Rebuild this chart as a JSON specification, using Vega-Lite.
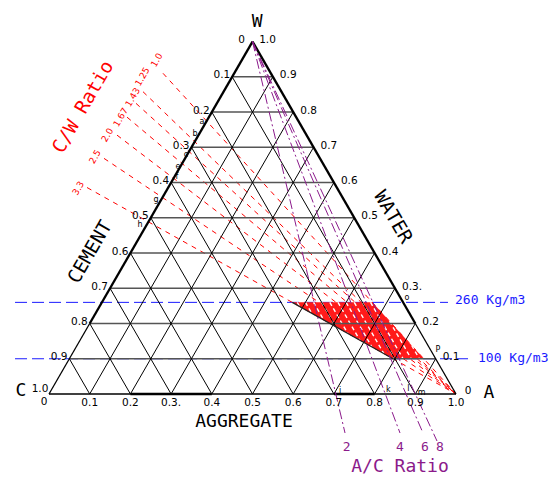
{
  "$schema": "https://vega.github.io/schema/vega-lite/v6.json",
  "width": 548,
  "height": 480,
  "padding": 0,
  "autosize": {"type": "none"},
  "background": "white",
  "config": {"view": {"stroke": null}},
  "datasets": {
    "blue": [
      {"x": -0.0835, "x2": 0.9803, "y": 0.22517, "y2": 0.22517},
      {"x": -0.0835, "x2": 1.0295, "y": 0.0866, "y2": 0.0866}
    ],
    "cw": [
      {"r": "1.0", "x": 0.2801, "y": 0.788, "x2": 1, "y2": 0},
      {"r": "1.25", "x": 0.23096, "y": 0.74276, "x2": 1, "y2": 0},
      {"r": "1.43", "x": 0.21376, "y": 0.7141, "x2": 1, "y2": 0},
      {"r": "1.67", "x": 0.19165, "y": 0.68026, "x2": 1, "y2": 0},
      {"r": "2.0", "x": 0.16708, "y": 0.63609, "x2": 1, "y2": 0},
      {"r": "2.5", "x": 0.13514, "y": 0.57893, "x2": 1, "y2": 0},
      {"r": "3.3", "x": 0.09337, "y": 0.50736, "x2": 1, "y2": 0}
    ],
    "zone": [
      {"y": 0.0866, "x": 0.84525, "x2": 0.92088},
      {"y": 0.22517, "x": 0.59763, "x2": 0.79429}
    ],
    "hatch": [
      {"x": 0.89117, "y": 0.11922, "x2": 0.91, "y2": 0.0866},
      {"x": 0.83675, "y": 0.17883, "x2": 0.89, "y2": 0.0866},
      {"x": 0.79, "y": 0.22517, "x2": 0.87, "y2": 0.0866},
      {"x": 0.77, "y": 0.22517, "x2": 0.85, "y2": 0.0866},
      {"x": 0.75, "y": 0.22517, "x2": 0.82273, "y2": 0.0992},
      {"x": 0.73, "y": 0.22517, "x2": 0.79318, "y2": 0.11573},
      {"x": 0.71, "y": 0.22517, "x2": 0.76364, "y2": 0.13226},
      {"x": 0.69, "y": 0.22517, "x2": 0.73409, "y2": 0.1488},
      {"x": 0.67, "y": 0.22517, "x2": 0.70455, "y2": 0.16533},
      {"x": 0.65, "y": 0.22517, "x2": 0.675, "y2": 0.18187},
      {"x": 0.63, "y": 0.22517, "x2": 0.64545, "y2": 0.1984},
      {"x": 0.61, "y": 0.22517, "x2": 0.61591, "y2": 0.21493}
    ],
    "hgrid": [
      {"x": 0.05, "x2": 0.95, "y": 0.0866, "y2": 0.0866},
      {"x": 0.1, "x2": 0.9, "y": 0.1732, "y2": 0.1732},
      {"x": 0.15, "x2": 0.85, "y": 0.2598, "y2": 0.2598},
      {"x": 0.2, "x2": 0.8, "y": 0.3464, "y2": 0.3464},
      {"x": 0.25, "x2": 0.75, "y": 0.433, "y2": 0.433},
      {"x": 0.3, "x2": 0.7, "y": 0.5196, "y2": 0.5196},
      {"x": 0.35, "x2": 0.65, "y": 0.6062, "y2": 0.6062},
      {"x": 0.4, "x2": 0.6, "y": 0.6928, "y2": 0.6928},
      {"x": 0.45, "x2": 0.55, "y": 0.7794, "y2": 0.7794}
    ],
    "dgrid": [
      {"x": 0.1, "y": 0, "x2": 0.55, "y2": 0.7794},
      {"x": 0.2, "y": 0, "x2": 0.6, "y2": 0.6928},
      {"x": 0.3, "y": 0, "x2": 0.65, "y2": 0.6062},
      {"x": 0.4, "y": 0, "x2": 0.7, "y2": 0.5196},
      {"x": 0.5, "y": 0, "x2": 0.75, "y2": 0.433},
      {"x": 0.6, "y": 0, "x2": 0.8, "y2": 0.3464},
      {"x": 0.7, "y": 0, "x2": 0.85, "y2": 0.2598},
      {"x": 0.8, "y": 0, "x2": 0.9, "y2": 0.1732},
      {"x": 0.9, "y": 0, "x2": 0.95, "y2": 0.0866},
      {"x": 0.9, "y": 0, "x2": 0.45, "y2": 0.7794},
      {"x": 0.8, "y": 0, "x2": 0.4, "y2": 0.6928},
      {"x": 0.7, "y": 0, "x2": 0.35, "y2": 0.6062},
      {"x": 0.6, "y": 0, "x2": 0.3, "y2": 0.5196},
      {"x": 0.5, "y": 0, "x2": 0.25, "y2": 0.433},
      {"x": 0.4, "y": 0, "x2": 0.2, "y2": 0.3464},
      {"x": 0.3, "y": 0, "x2": 0.15, "y2": 0.2598},
      {"x": 0.2, "y": 0, "x2": 0.1, "y2": 0.1732},
      {"x": 0.1, "y": 0, "x2": 0.05, "y2": 0.0866}
    ],
    "edgeThin": [
      {"x": 0, "y": 0, "x2": 1, "y2": 0},
      {"x": 0, "y": 0, "x2": 0.1, "y2": 0.1732},
      {"x": 0.9, "y": 0.1732, "x2": 1, "y2": 0}
    ],
    "edgeThick": [
      {"x": 0.1, "y": 0.1732, "x2": 0.5, "y2": 0.866},
      {"x": 0.5, "y": 0.866, "x2": 0.9, "y2": 0.1732},
      {"x": 0.2, "y": 0, "x2": 0.4, "y2": 0},
      {"x": 0.7, "y": 0, "x2": 0.8, "y2": 0}
    ],
    "zoneEdge": [
      {"x": 0.59763, "y": 0.22517, "x2": 0.84525, "y2": 0.0866}
    ],
    "ac": [
      {"r": "2", "x": 0.5, "y": 0.866, "x2": 0.7273, "y2": -0.0958},
      {"r": "4", "x": 0.5, "y": 0.866, "x2": 0.8624, "y2": -0.0958},
      {"r": "6", "x": 0.5, "y": 0.866, "x2": 0.9189, "y2": -0.0958},
      {"r": "8", "x": 0.5, "y": 0.866, "x2": 0.9533, "y2": -0.1155}
    ],
    "leftLab": [
      {"t": "0.1", "x": 0.45, "y": 0.7794},
      {"t": "0.2", "x": 0.4, "y": 0.6928},
      {"t": "0.3", "x": 0.35, "y": 0.6062},
      {"t": "0.4", "x": 0.3, "y": 0.5196},
      {"t": "0.5", "x": 0.25, "y": 0.433},
      {"t": "0.6", "x": 0.2, "y": 0.3464},
      {"t": "0.7", "x": 0.15, "y": 0.2598},
      {"t": "0.8", "x": 0.1, "y": 0.1732},
      {"t": "0.9", "x": 0.05, "y": 0.0866}
    ],
    "rightLab": [
      {"t": "0.9", "x": 0.55, "y": 0.7794},
      {"t": "0.8", "x": 0.6, "y": 0.6928},
      {"t": "0.7", "x": 0.65, "y": 0.6062},
      {"t": "0.6", "x": 0.7, "y": 0.5196},
      {"t": "0.5", "x": 0.75, "y": 0.433},
      {"t": "0.4", "x": 0.8, "y": 0.3464},
      {"t": "0.3.", "x": 0.85, "y": 0.2598},
      {"t": "0.2", "x": 0.9, "y": 0.1732},
      {"t": "0.1", "x": 0.95, "y": 0.0866}
    ],
    "bottomLab": [
      {"t": "0.1", "x": 0.1, "y": 0},
      {"t": "0.2", "x": 0.2, "y": 0},
      {"t": "0.3.", "x": 0.3, "y": 0},
      {"t": "0.4", "x": 0.4, "y": 0},
      {"t": "0.5", "x": 0.5, "y": 0},
      {"t": "0.6", "x": 0.6, "y": 0},
      {"t": "0.7", "x": 0.7, "y": 0},
      {"t": "0.8", "x": 0.8, "y": 0},
      {"t": "0.9", "x": 0.9, "y": 0},
      {"t": "1.0", "x": 1.0, "y": 0}
    ],
    "cornerLab": [
      {"t": "0", "x": 0.473, "y": 0.8698},
      {"t": "1.0", "x": 0.5369, "y": 0.8698},
      {"t": "1.0", "x": -0.0221, "y": 0.0123},
      {"t": "0", "x": -0.0123, "y": -0.0197},
      {"t": "0", "x": 1.0295, "y": 0.0074}
    ],
    "letters": [
      {"t": "a", "x": 0.3759, "y": 0.6683},
      {"t": "b", "x": 0.3587, "y": 0.6388},
      {"t": "c", "x": 0.3366, "y": 0.5872},
      {"t": "e", "x": 0.317, "y": 0.5577},
      {"t": "f", "x": 0.3145, "y": 0.5332},
      {"t": "g", "x": 0.2629, "y": 0.4767},
      {"t": "h", "x": 0.2236, "y": 0.4152},
      {"t": "o", "x": 0.8796, "y": 0.2359},
      {"t": "P", "x": 0.9558, "y": 0.1081},
      {"t": "i", "x": 0.715, "y": 0.0081},
      {"t": "k", "x": 0.8337, "y": 0.0098},
      {"t": "l", "x": 0.8829, "y": 0.0115},
      {"t": "m", "x": 0.9157, "y": 0.0032}
    ],
    "vertexLab": [
      {"t": "W", "x": 0.5117, "y": 0.914},
      {"t": "C", "x": -0.0688, "y": 0.0074},
      {"t": "A", "x": 1.0811, "y": 0.0025},
      {"t": "AGGREGATE", "x": 0.4791, "y": -0.0688}
    ],
    "cementLab": [{"t": "CEMENT", "x": 0.1007, "y": 0.3489}],
    "waterLab": [{"t": "WATER", "x": 0.8452, "y": 0.4349}],
    "cwTitle": [{"t": "C/W Ratio", "x": 0.0835, "y": 0.7052}],
    "cwLab": [
      {"t": "1.0", "x": 0.2645, "y": 0.8206},
      {"t": "1.25", "x": 0.2292, "y": 0.7797},
      {"t": "1.43", "x": 0.2057, "y": 0.729},
      {"t": "1.67", "x": 0.1762, "y": 0.6798},
      {"t": "2.0", "x": 0.1433, "y": 0.6364},
      {"t": "2.5", "x": 0.1130, "y": 0.5831},
      {"t": "3.3", "x": 0.0720, "y": 0.5054}
    ],
    "acTitle": [{"t": "A/C Ratio", "x": 0.8624, "y": -0.1794}],
    "acLab": [
      {"t": "2", "x": 0.7314, "y": -0.1294},
      {"t": "4", "x": 0.8624, "y": -0.1294},
      {"t": "6", "x": 0.9238, "y": -0.1294},
      {"t": "8", "x": 0.9607, "y": -0.1294}
    ],
    "kgLab": [
      {"t": "260 Kg/m3", "x": 0.9975, "y": 0.231},
      {"t": "100 Kg/m3", "x": 1.0541, "y": 0.0885}
    ]
  },
  "encoding": {
    "x": {"field": "x", "type": "quantitative", "scale": {"domain": [-0.1204, 1.226], "nice": false, "zero": false}, "axis": null},
    "y": {"field": "y", "type": "quantitative", "scale": {"domain": [-0.2113, 0.9681], "nice": false, "zero": false}, "axis": null}
  },
  "layer": [
    {"data": {"name": "blue"}, "mark": {"type": "rule", "color": "#1a1aff", "strokeWidth": 1, "strokeDash": [12, 5]},
     "encoding": {"x2": {"field": "x2"}, "y2": {"field": "y2"}}},
    {"data": {"name": "cw"}, "mark": {"type": "rule", "color": "#ff0000", "strokeWidth": 1, "strokeDash": [5, 5]},
     "encoding": {"x2": {"field": "x2"}, "y2": {"field": "y2"}}},
    {"data": {"name": "zone"}, "mark": {"type": "area", "orient": "horizontal", "color": "#ff1a1a", "opacity": 1},
     "encoding": {"x2": {"field": "x2"}}},
    {"data": {"name": "hatch"}, "mark": {"type": "rule", "color": "#ffffff", "strokeWidth": 1.4, "strokeDash": [4, 3]},
     "encoding": {"x2": {"field": "x2"}, "y2": {"field": "y2"}}},
    {"data": {"name": "hgrid"}, "mark": {"type": "rule", "color": "#555555", "strokeWidth": 1.4},
     "encoding": {"x2": {"field": "x2"}, "y2": {"field": "y2"}}},
    {"data": {"name": "dgrid"}, "mark": {"type": "rule", "color": "#000000", "strokeWidth": 1},
     "encoding": {"x2": {"field": "x2"}, "y2": {"field": "y2"}}},
    {"data": {"name": "edgeThin"}, "mark": {"type": "rule", "color": "#000000", "strokeWidth": 1.3},
     "encoding": {"x2": {"field": "x2"}, "y2": {"field": "y2"}}},
    {"data": {"name": "edgeThick"}, "mark": {"type": "rule", "color": "#000000", "strokeWidth": 2.3},
     "encoding": {"x2": {"field": "x2"}, "y2": {"field": "y2"}}},
    {"data": {"name": "zoneEdge"}, "mark": {"type": "rule", "color": "#222222", "strokeWidth": 1.2},
     "encoding": {"x2": {"field": "x2"}, "y2": {"field": "y2"}}},
    {"data": {"name": "ac"}, "mark": {"type": "rule", "color": "#8b1a8b", "strokeWidth": 1, "strokeDash": [10, 3, 2, 3]},
     "encoding": {"x2": {"field": "x2"}, "y2": {"field": "y2"}}},
    {"data": {"name": "leftLab"}, "mark": {"type": "text", "font": "DejaVu Sans", "fontSize": 10.5, "align": "right", "baseline": "alphabetic", "dx": -2, "dy": 1.5, "color": "#000000"},
     "encoding": {"text": {"field": "t"}}},
    {"data": {"name": "rightLab"}, "mark": {"type": "text", "font": "DejaVu Sans", "fontSize": 10.5, "align": "left", "baseline": "alphabetic", "dx": 7, "dy": 1.5, "color": "#000000"},
     "encoding": {"text": {"field": "t"}}},
    {"data": {"name": "bottomLab"}, "mark": {"type": "text", "font": "DejaVu Sans", "fontSize": 10.5, "align": "center", "baseline": "top", "dy": 4, "color": "#000000"},
     "encoding": {"text": {"field": "t"}}},
    {"data": {"name": "cornerLab"}, "mark": {"type": "text", "font": "DejaVu Sans", "fontSize": 10.5, "align": "center", "baseline": "middle", "color": "#000000"},
     "encoding": {"text": {"field": "t"}}},
    {"data": {"name": "letters"}, "mark": {"type": "text", "font": "DejaVu Sans", "fontSize": 8, "align": "center", "baseline": "middle", "color": "#000000"},
     "encoding": {"text": {"field": "t"}}},
    {"data": {"name": "vertexLab"}, "mark": {"type": "text", "font": "DejaVu Sans Mono", "fontSize": 18, "align": "center", "baseline": "middle", "color": "#000000"},
     "encoding": {"text": {"field": "t"}}},
    {"data": {"name": "cementLab"}, "mark": {"type": "text", "font": "DejaVu Sans Mono", "fontSize": 19, "align": "center", "baseline": "middle", "angle": 300, "color": "#000000"},
     "encoding": {"text": {"field": "t"}}},
    {"data": {"name": "waterLab"}, "mark": {"type": "text", "font": "DejaVu Sans Mono", "fontSize": 19, "align": "center", "baseline": "middle", "angle": 60, "color": "#000000"},
     "encoding": {"text": {"field": "t"}}},
    {"data": {"name": "cwTitle"}, "mark": {"type": "text", "font": "DejaVu Sans Mono", "fontSize": 19, "align": "center", "baseline": "middle", "angle": 300, "color": "#ff0000"},
     "encoding": {"text": {"field": "t"}}},
    {"data": {"name": "cwLab"}, "mark": {"type": "text", "font": "DejaVu Sans", "fontSize": 9, "align": "center", "baseline": "middle", "angle": 300, "color": "#ff0000"},
     "encoding": {"text": {"field": "t"}}},
    {"data": {"name": "acTitle"}, "mark": {"type": "text", "font": "DejaVu Sans Mono", "fontSize": 18, "align": "center", "baseline": "middle", "color": "#8b1a8b"},
     "encoding": {"text": {"field": "t"}}},
    {"data": {"name": "acLab"}, "mark": {"type": "text", "font": "DejaVu Sans Mono", "fontSize": 13, "align": "center", "baseline": "middle", "color": "#8b1a8b"},
     "encoding": {"text": {"field": "t"}}},
    {"data": {"name": "kgLab"}, "mark": {"type": "text", "font": "DejaVu Sans Mono", "fontSize": 13, "align": "left", "baseline": "middle", "color": "#1a1aff"},
     "encoding": {"text": {"field": "t"}}}
  ]
}
